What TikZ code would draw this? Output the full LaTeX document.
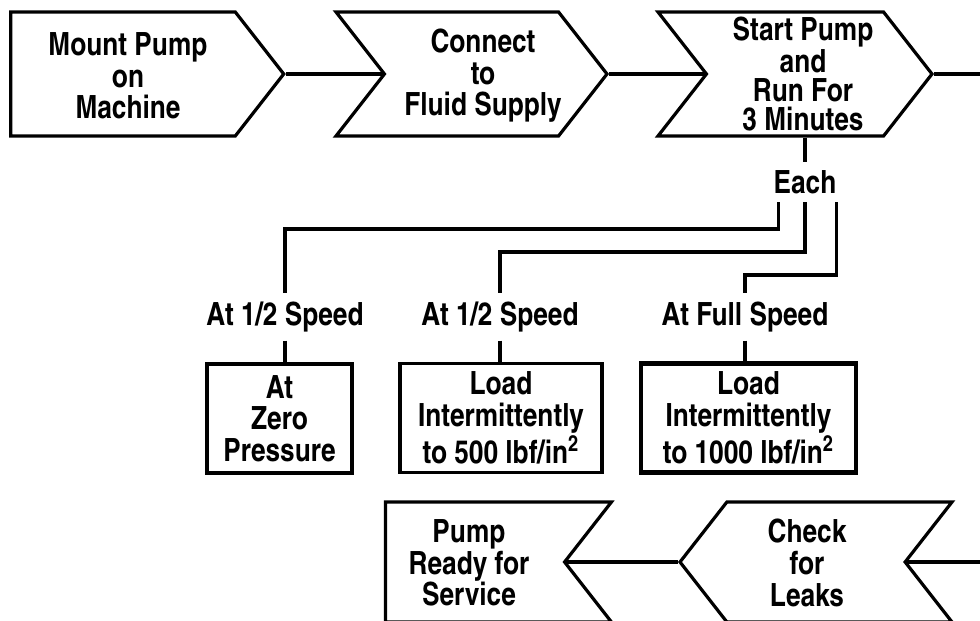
\documentclass[tikz,border=0pt]{standalone}
\usepackage{fontspec}
\setmainfont{texgyreheroscn-bold.otf}
\usetikzlibrary{positioning,shapes.symbols}

\begin{document}
\begin{tikzpicture}[
  x=0.5pt, y=-0.5pt,
  font=\fontsize{16}{15.8}\selectfont,
  chevron/.style={signal, draw=black, line width=1.6pt, fill=white, inner sep=0pt,
                  signal pointer angle=104, minimum height=62pt, minimum width=136.5pt},
  steptxt/.style={align=center, inner sep=0pt},
  lbox/.style={draw=black, line width=1.6pt, align=center, inner sep=0pt,
               minimum height=54.5pt},
  lab/.style={inner xsep=0pt, inner ysep=4pt},
  conn/.style={line width=1.6pt}
]
\useasboundingbox (0,0) rectangle (980,621);
\clip (0,0) rectangle (980,621);
% ----- top row -----
\node[chevron] (mount) at (123,74) {};
\node[chevron, signal from=west, minimum width=135.5pt] (connect) at (471.5,74) {};
\node[chevron, signal from=west, minimum width=137pt] (start) at (795,74) {};
\node[steptxt] (mount-t) at (128,76) {Mount Pump\\on\\Machine};
\node[steptxt] (connect-t) at (483,76) {Connect\\to\\Fluid Supply};
\node[steptxt, font=\fontsize{16}{14.5}\selectfont] (start-t) at (803,74) {Start Pump\\and\\Run For\\3 Minutes};
\coordinate (topout) at (980,74);
\draw[conn] (mount.east) -- (connect.west);
\draw[conn] (connect.east) -- (start.west);
\draw[conn] (start.east) -- (topout);
% ----- branches -----
\node[lab] (each) at (805,182) {Each};
\draw[conn] (each.north |- start.south) -- (each.north);
\node[lab] (half1) at (285,317) {At 1/2 Speed};
\node[lab] (half2) at (500,317) {At 1/2 Speed};
\node[lab] (full) at (745,317) {At Full Speed};
\draw[conn] ([xshift=2.5pt]each.south west) -- ([xshift=2.5pt]each.south west |- 0,229) -| (half1.north);
\draw[conn] (each.south) -- (each.south |- 0,252) -| (half2.north);
\draw[conn] (each.south east) -- (each.south east |- 0,275) -| (full.north);
% ----- load boxes -----
\node[lbox, minimum width=72.5pt] (zero) at (279.5,418.5) {At\\Zero\\Pressure};
\node[lbox, minimum width=101pt] (load500) at (501,418) {Load\\Intermittently\\to 500 lbf/in\textsuperscript{2}};
\node[lbox, minimum width=107.5pt, line width=2.4pt] (load1000) at (748.5,418) {Load\\Intermittently\\to 1000 lbf/in\textsuperscript{2}};
\draw[conn] (half1.south) -- (half1.south |- zero.north);
\draw[conn] (half2.south) -- (half2.south |- load500.north);
\draw[conn] (full.south) -- (full.south |- load1000.north);
% ----- bottom row -----
\node[chevron, signal to=nowhere, signal from=east, minimum width=113pt, minimum height=60pt] (ready) at (475,562) {};
\node[chevron, signal to=west, signal from=east, minimum width=136pt, minimum height=60pt] (check) at (816,562) {};
\node[steptxt] (ready-t) at (469,563) {Pump\\Ready for\\Service};
\node[steptxt] (check-t) at (807,563) {Check\\for\\Leaks};
\coordinate (botin) at (980,562);
\draw[conn] (botin) -- (check.east);
\draw[conn] (check.west) -- (ready.east);
\end{tikzpicture}
\end{document}
